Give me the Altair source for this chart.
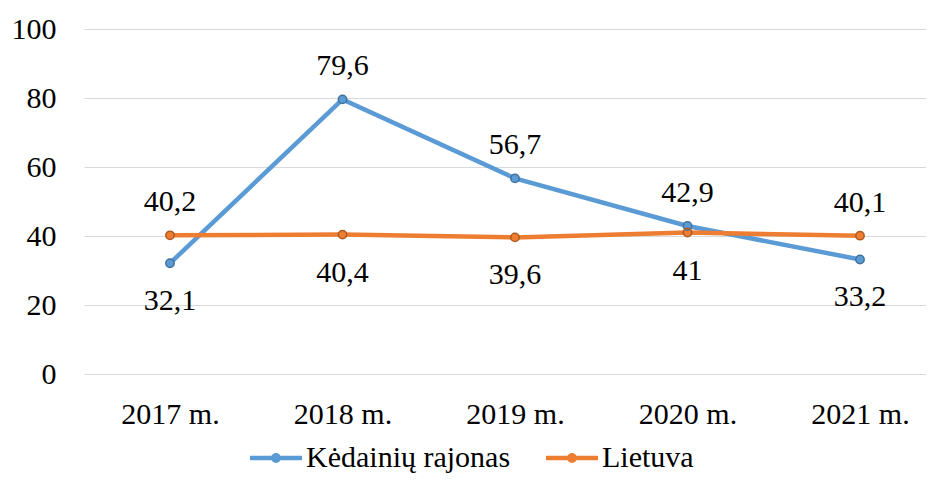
import altair as alt
import pandas as pd

years = ["2017 m.", "2018 m.", "2019 m.", "2020 m.", "2021 m."]
series_names = ["Kėdainių rajonas", "Lietuva"]
kedainiai = [32.1, 79.6, 56.7, 42.9, 33.2]
lietuva = [40.2, 40.4, 39.6, 41.0, 40.1]
kedainiai_pos = ["below", "above", "above", "above", "below"]
lietuva_pos = ["above", "below", "below", "below", "above"]

line_colors = ["#5B9BD5", "#ED7D31"]
marker_edges = ["#41719C", "#AE5A21"]
FONT = "Liberation Serif"
FS = 30

rows = []
for name, vals, poss in [(series_names[0], kedainiai, kedainiai_pos),
                         (series_names[1], lietuva, lietuva_pos)]:
    for y, v, p in zip(years, vals, poss):
        rows.append({"year": y, "series": name, "s2": name, "value": v,
                     "label": "{:g}".format(v).replace(".", ","), "pos": p})
df = pd.DataFrame(rows)

x = alt.X("year:N", sort=years,
          scale=alt.Scale(type="point", padding=0.4406, align=0.5658),
          axis=alt.Axis(title=None, labelAngle=0, domain=False, ticks=False,
                        grid=False, labelPadding=25, labelFontSize=FS,
                        labelFont=FONT, labelColor="black"))
y = alt.Y("value:Q", scale=alt.Scale(domain=[0, 100], nice=False),
          axis=alt.Axis(title=None, values=[0, 20, 40, 60, 80, 100],
                        domain=False, ticks=False, grid=True,
                        gridColor="#d9d9d9", gridWidth=1.2,
                        labelPadding=28, labelFontSize=FS, labelFont=FONT,
                        labelColor="black"))

base = alt.Chart(df)

lines = base.mark_line(strokeWidth=4.5).encode(
    x=x, y=y,
    stroke=alt.Stroke("s2:N", sort=series_names,
                      scale=alt.Scale(domain=series_names, range=line_colors),
                      legend=None),
    detail="s2:N",
    order=alt.Order("year:N"),
)

points = base.mark_point(filled=True, size=70, opacity=1).encode(
    x=x, y=y,
    fill=alt.Fill("series:N", sort=series_names,
                  scale=alt.Scale(domain=series_names, range=line_colors),
                  legend=alt.Legend(
                      title=None, orient="none", legendX=166, legendY=403,
                      direction="horizontal",
                      symbolType="M-1,-0.09L1,-0.09L1,0.09L-1,0.09Z"
                                 "M0.19,0A0.19,0.19 0 1,1 -0.19,0A0.19,0.19 0 1,1 0.19,0Z",
                      symbolSize=2704, symbolStrokeWidth=0, symbolOpacity=1,
                      labelFontSize=FS, labelFont=FONT, labelColor="black",
                      labelOffset=4, columnPadding=35, padding=0,
                      labelLimit=400)),
)

edges = base.mark_point(filled=False, size=70, strokeWidth=1.5, opacity=1).encode(
    x=x, y=y,
    stroke=alt.Stroke("s2:N",
                      scale=alt.Scale(domain=series_names, range=marker_edges),
                      legend=None),
)

text_above = base.transform_filter(alt.datum.pos == "above").mark_text(
    dy=-24, baseline="alphabetic", align="center", fontSize=FS, font=FONT,
    color="black").encode(x=x, y=y, text="label:N")

text_below = base.transform_filter(alt.datum.pos == "below").mark_text(
    dy=47, baseline="alphabetic", align="center", fontSize=FS, font=FONT,
    color="black").encode(x=x, y=y, text="label:N")

chart = alt.layer(lines, points, edges, text_above, text_below).resolve_scale(
    stroke="independent"
).properties(
    width=842, height=345,
    padding={"left": 76, "top": 21, "right": 0, "bottom": 103},
    autosize=alt.AutoSizeParams(type="none"),
).configure(font=FONT).configure_view(stroke=None)

chart.save("out.html", embed_options={"renderer": "svg", "actions": False})
